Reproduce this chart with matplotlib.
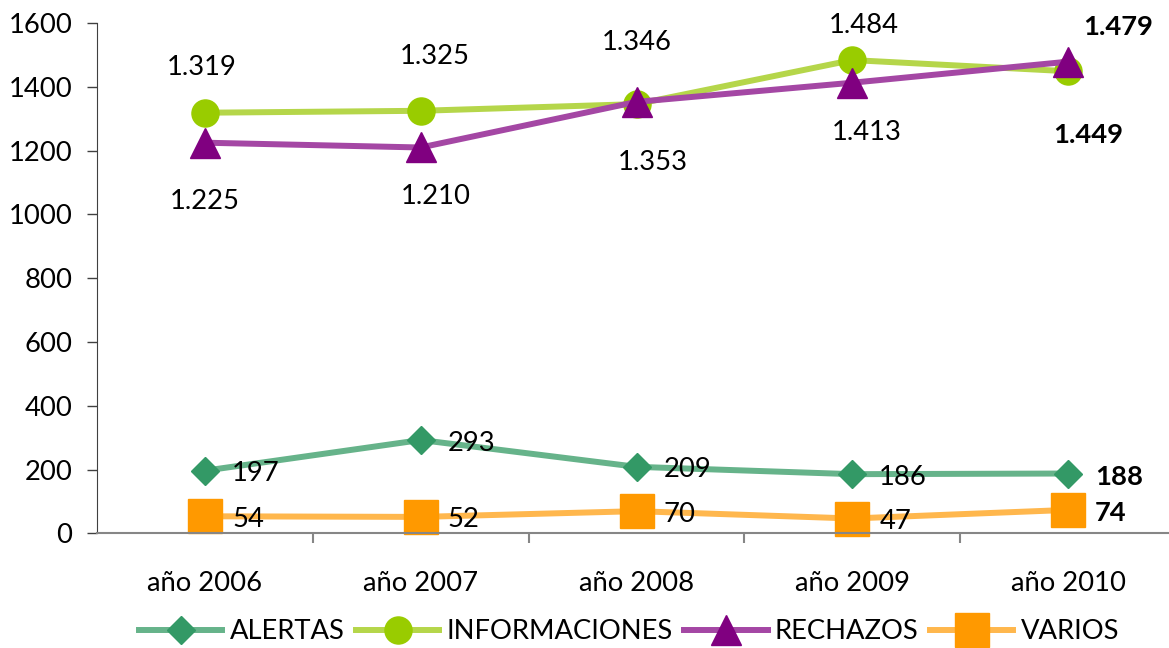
import matplotlib
matplotlib.use("Agg")
import matplotlib.pyplot as plt

plt.rcParams['font.family'] = ['Lato', 'DejaVu Sans']

years = ["año 2006", "año 2007", "año 2008", "año 2009", "año 2010"]
alertas = [197, 293, 209, 186, 188]
informaciones = [1319, 1325, 1346, 1484, 1449]
rechazos = [1225, 1210, 1353, 1413, 1479]
varios = [54, 52, 70, 47, 74]

# estilos de cada serie: (color linea, color marcador, marcador, tamaño)
styles = {
    "ALERTAS": ("#66b38a", "#339966", "D", 14.5),
    "INFORMACIONES": ("#b5d64a", "#99cc00", "o", 19.5),
    "RECHAZOS": ("#a447a4", "#800080", "^", 21),
    "VARIOS": ("#ffb74d", "#ff9900", "s", 24),
}

# desplazamientos de etiquetas (pixeles) para las series superiores
info_off = [(-3, 45), (14, 54), (0, 62), (12, 35), (20, -64)]
rech_off = [(0, -59), (15, -49), (16, -61), (14, -50), (50, 35)]

fig = plt.figure(figsize=(11.69, 6.48), dpi=100)
ax = fig.add_axes([0.0831, 0.1767, 0.9228, 0.7877])

x = list(range(len(years)))
series = [("ALERTAS", alertas), ("INFORMACIONES", informaciones),
          ("RECHAZOS", rechazos), ("VARIOS", varios)]
for name, vals in series:
    lc, mc, mk, ms = styles[name]
    ax.plot(x, vals, color=lc, lw=4.3, marker=mk, markersize=ms,
            markerfacecolor=mc, markeredgecolor=mc, label=name,
            solid_joinstyle='round', clip_on=False)

fs = 19.7
last = len(years) - 1
for i, v in enumerate(alertas):
    ax.annotate(str(v), (i, v), xytext=(27, -3), textcoords='offset pixels',
                ha='left', va='center', fontsize=fs,
                fontweight='bold' if i == last else 'normal')
for i, v in enumerate(varios):
    ax.annotate(str(v), (i, v), xytext=(27, -3), textcoords='offset pixels',
                ha='left', va='center', fontsize=fs,
                fontweight='bold' if i == last else 'normal')
for i, v in enumerate(informaciones):
    txt = f"{v/1000:.3f}"
    ax.annotate(txt, (i, v), xytext=info_off[i], textcoords='offset pixels',
                ha='center', va='center', fontsize=fs,
                fontweight='bold' if i == last else 'normal')
for i, v in enumerate(rechazos):
    txt = f"{v/1000:.3f}"
    ax.annotate(txt, (i, v), xytext=rech_off[i], textcoords='offset pixels',
                ha='center', va='center', fontsize=fs,
                fontweight='bold' if i == last else 'normal')

ax.set_xlim(-0.5, len(years) - 0.5)
ax.set_ylim(0, 1600)
ax.set_yticks(range(0, 1601, 200))
ax.set_xticks(x)
ax.set_xticklabels(years)
ax.set_xticks([i + 0.5 for i in range(len(years) - 1)], minor=True)

for s in ['top', 'right']:
    ax.spines[s].set_visible(False)
ax.spines['left'].set_color('#404040')
ax.spines['bottom'].set_color('#868686')
ax.spines['bottom'].set_linewidth(1.5)

ax.tick_params(axis='y', length=7.2, width=1, color='#404040', pad=10.5,
               labelsize=fs)
ax.tick_params(axis='x', which='major', length=0, pad=27, labelsize=fs)
ax.tick_params(axis='x', which='minor', length=7.2, width=1.5,
               color='#868686')

fig.legend(loc='center', bbox_to_anchor=(0.538, 0.025), ncol=4,
           frameon=False, fontsize=fs, handlelength=3.05,
           handletextpad=0.26, columnspacing=0.42, borderaxespad=0)

fig.savefig("out.png", dpi=100)
